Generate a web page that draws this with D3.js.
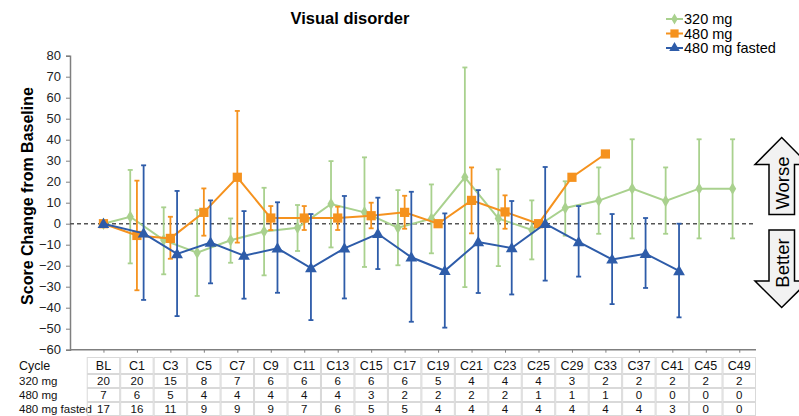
<!DOCTYPE html>
<html>
<head>
<meta charset="utf-8">
<script src="https://cdn.jsdelivr.net/npm/d3@7"></script>
<style>
  html, body { margin: 0; padding: 0; background: #fff; }
  svg { display: block; font-family: "Liberation Sans", Arial, sans-serif; }
</style>
</head>
<body>
<svg id="chart" width="799" height="416"></svg>
<script>
// ---------- DATA ----------
const cycles = ["BL","C1","C3","C5","C7","C9","C11","C13","C15","C17","C19","C21","C23","C25","C29","C33","C37","C41","C45","C49"];

const seriesNames = ["320 mg", "480 mg", "480 mg fasted"];

// mean change from baseline
const mean320 = [0, 3.3, -7.8, -13.8, -7.9, -3.7, -1.9, 9.4, 5.4, -1.9, 2.4, 22.1, 2.5, -3.0, 7.5, 11.0, 16.7, 10.8, 16.7, 16.7];
const upper320 = [null, 25.6, 7.8, 6.5, 2.5, 17.1, 8.9, 29.8, 31.6, 16.0, 18.7, 74.4, 25.9, 11.1, 20.2, 26.8, 40.2, 26.8, 40.2, 40.2];
const lower320 = [null, -18.9, -24.1, -34.4, -18.6, -24.6, -13.0, -11.3, -20.6, -19.8, -14.1, -30.2, -20.2, -17.0, -5.7, -4.8, -7.0, -4.8, -7.0, -7.0];

const mean480 = [0, -5.6, -7.0, 5.4, 22.1, 2.7, 2.7, 2.7, 3.8, 5.4, 0.0, 11.1, 5.6, 0.0, 22.1, 33.2, null, null, null, null];
const upper480 = [null, 20.5, 3.3, 16.8, 53.7, 8.4, 8.4, 8.1, 10.0, 13.3, null, 26.8, 13.5, null, null, null, null, null, null, null];
const lower480 = [null, -31.7, -16.7, -5.7, -9.0, -3.0, -3.0, -3.0, -2.2, -2.4, null, -4.6, -2.4, null, null, null, null, null, null, null];

const mean480f = [0, -4.6, -14.4, -9.0, -15.2, -11.7, -21.1, -11.7, -4.8, -16.0, -22.4, -8.7, -11.6, 0.0, -8.7, -17.0, -14.3, -22.5, null, null];
const upper480f = [null, 27.8, 15.6, 11.1, 6.0, 10.2, 4.6, 13.2, 12.4, 15.2, 4.9, 16.0, 10.8, 27.0, 8.4, 4.6, 2.7, 0.0, null, null];
const lower480f = [null, -36.3, -44.0, -28.4, -35.7, -32.9, -45.9, -35.6, -21.6, -46.7, -49.5, -33.0, -33.7, -27.1, -25.2, -38.3, -30.6, -44.6, null, null];

// patients at risk table
const n320  = [20, 20, 15, 8, 7, 6, 6, 6, 6, 6, 5, 4, 4, 4, 3, 2, 2, 2, 2, 2];
const n480  = [7, 6, 5, 4, 4, 4, 4, 4, 3, 2, 2, 2, 2, 1, 1, 1, 0, 0, 0, 0];
const n480f = [17, 16, 11, 9, 9, 9, 7, 6, 5, 5, 4, 4, 4, 4, 4, 4, 4, 3, 0, 0];

const yTicks = [80, 70, 60, 50, 40, 30, 20, 10, 0, -10, -20, -30, -40, -50, -60];

// ---------- CHART ----------
const svg = d3.select("#chart");
const FONT = '"Liberation Sans", Arial, sans-serif';

const x = d3.scaleLinear().domain([-1, 19.5]).range([70, 756]);
const y = d3.scaleLinear().domain([-60, 80]).range([349.7, 55.7]);

const series = [
  { name: seriesNames[0], mean: mean320, up: upper320, lo: lower320, color: "#a9d18e", shape: "diamond", off: -0.2, n: n320 },
  { name: seriesNames[1], mean: mean480, up: upper480, lo: lower480, color: "#f5921e", shape: "square", off: 0, n: n480 },
  { name: seriesNames[2], mean: mean480f, up: upper480f, lo: lower480f, color: "#2e5ca9", shape: "triangle", off: 0.2, n: n480f }
];

function px(i, s) { return x(i + (i === 0 ? 0 : s.off)); }

// title
svg.append("text").attr("x", 350).attr("y", 24).attr("text-anchor", "middle")
  .attr("font-size", 16.5).attr("font-weight", "bold").attr("fill", "#000").text("Visual disorder");

// y axis
const yAxis = d3.axisLeft(y).tickValues(yTicks).tickSize(4).tickPadding(5).tickFormat(d3.format("d"));
const gy = svg.append("g").attr("transform", "translate(70,0)").call(yAxis);
gy.select(".domain").attr("stroke", "#7f7f7f").attr("stroke-width", 1.5);
gy.selectAll(".tick line").attr("stroke", "#7f7f7f");
gy.selectAll(".tick text").attr("font-size", 13).attr("font-family", FONT).attr("fill", "#222");

// x axis
const xAxis = d3.axisBottom(x).tickValues(d3.range(cycles.length)).tickSize(3).tickFormat("");
const gx = svg.append("g").attr("transform", "translate(0,349.7)").call(xAxis);
gx.select(".domain").attr("stroke", "#7f7f7f").attr("stroke-width", 1.5).attr("d", `M70,0H756`);
gx.selectAll(".tick line").attr("stroke", "#7f7f7f");

// y label
svg.append("text").attr("transform", "translate(33,196) rotate(-90)").attr("text-anchor", "middle")
  .attr("font-size", 16).attr("font-weight", "bold").attr("fill", "#000").text("Score Change from Baseline");

// zero reference line
svg.append("line").attr("x1", 70).attr("x2", 756).attr("y1", y(0)).attr("y2", y(0))
  .attr("stroke", "#555").attr("stroke-width", 1.5).attr("stroke-dasharray", "4,3");

// symbols
const symType = { diamond: d3.symbolDiamond, square: d3.symbolSquare, triangle: d3.symbolTriangle };
const symSize = { diamond: 45, square: 85, triangle: 60 };

series.forEach(s => {
  const g = svg.append("g");
  // error bars
  s.mean.forEach((m, i) => {
    if (m == null || s.up[i] == null) return;
    const cx = px(i, s);
    g.append("line").attr("x1", cx).attr("x2", cx).attr("y1", y(s.up[i])).attr("y2", y(s.lo[i]))
      .attr("stroke", s.color).attr("stroke-width", 1.8);
    [s.up[i], s.lo[i]].forEach(v => {
      g.append("line").attr("x1", cx - 2.5).attr("x2", cx + 2.5).attr("y1", y(v)).attr("y2", y(v))
        .attr("stroke", s.color).attr("stroke-width", 1.8);
    });
  });
  // line
  const pts = s.mean.map((m, i) => m == null ? null : [px(i, s), y(m)]).filter(d => d);
  g.append("path").attr("d", d3.line()(pts)).attr("fill", "none").attr("stroke", s.color).attr("stroke-width", 2);
  // markers
  pts.forEach(p => {
    g.append("path").attr("d", d3.symbol().type(symType[s.shape]).size(symSize[s.shape])())
      .attr("transform", `translate(${p[0]},${p[1] + (s.shape === "triangle" ? 0.8 : 0)})`).attr("fill", s.color);
  });
});

// legend
const legend = svg.append("g");
series.forEach((s, k) => {
  const ly = 19 + k * 14.5;
  legend.append("line").attr("x1", 666).attr("x2", 683).attr("y1", ly).attr("y2", ly)
    .attr("stroke", s.color).attr("stroke-width", 2);
  legend.append("path").attr("d", d3.symbol().type(symType[s.shape]).size(symSize[s.shape] * 0.8)())
    .attr("transform", `translate(674.5,${ly})`).attr("fill", s.color);
  legend.append("text").attr("x", 684).attr("y", ly + 5).attr("font-size", 14.5).attr("fill", "#000").text(s.name);
});

// Worse / Better arrows
function arrowUp() {
  return d3.line()([[781.7,137.5],[808.4,164.5],[794.5,164.5],[794.5,214.5],[769,214.5],[769,164.5],[755,164.5]]) + "Z";
}
function arrowDown() {
  return d3.line()([[769,230],[794.5,230],[794.5,281],[808.4,281],[781.7,307.5],[755,281],[769,281]]) + "Z";
}
svg.append("path").attr("d", arrowUp()).attr("fill", "#f2f2f2").attr("stroke", "#000").attr("stroke-width", 1.5);
svg.append("path").attr("d", arrowDown()).attr("fill", "#f2f2f2").attr("stroke", "#000").attr("stroke-width", 1.5);
svg.append("text").attr("transform", "translate(788.5,183) rotate(-90)").attr("text-anchor", "middle")
  .attr("font-size", 18.5).attr("fill", "#000").text("Worse");
svg.append("text").attr("transform", "translate(788.5,263) rotate(-90)").attr("text-anchor", "middle")
  .attr("font-size", 18.5).attr("fill", "#000").text("Better");

// table
const step = x(1) - x(0);
const rowTop = [357, 374, 388, 402];
const rowH = [17, 14, 14, 14];
const tableRows = [
  { label: "Cycle", vals: cycles, fs: 12.5, lfs: 12.5 },
  { label: seriesNames[0], vals: n320, fs: 11.5, lfs: 11.5 },
  { label: seriesNames[1], vals: n480, fs: 11.5, lfs: 11.5 },
  { label: seriesNames[2], vals: n480f, fs: 11.5, lfs: 11.5 }
];
const tg = svg.append("g");
tableRows.forEach((r, ri) => {
  tg.append("text").attr("x", 19).attr("y", rowTop[ri] + rowH[ri] / 2 + r.lfs * 0.35)
    .attr("font-size", r.lfs).attr("fill", "#111").text(r.label);
  r.vals.forEach((v, i) => {
    const cx = x(i);
    tg.append("rect").attr("x", cx - step / 2 + 0.5).attr("y", rowTop[ri] + 0.5)
      .attr("width", step - 1).attr("height", rowH[ri] - 1)
      .attr("fill", "none").attr("stroke", "#d9d9d9").attr("stroke-width", 1);
    tg.append("text").attr("x", cx).attr("y", rowTop[ri] + rowH[ri] / 2 + r.fs * 0.35)
      .attr("text-anchor", "middle").attr("font-size", r.fs).attr("fill", "#111").text(v);
  });
});
</script>
</body>
</html>
